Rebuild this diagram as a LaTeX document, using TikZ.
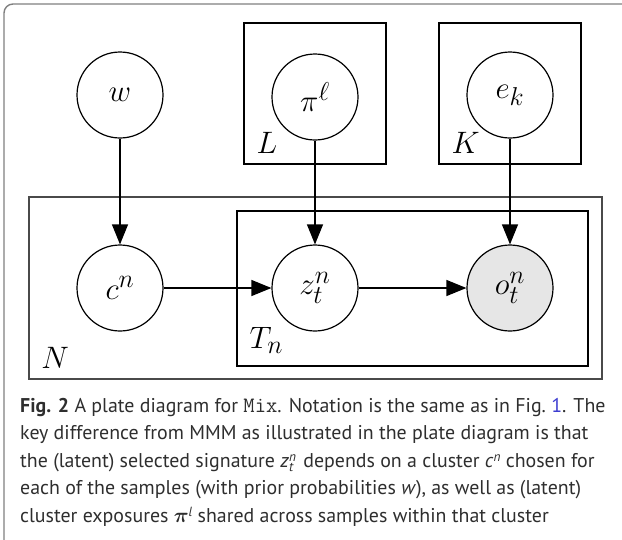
\documentclass[tikz,border=0pt]{standalone}
\usepackage{amsmath}
\usepackage{graphicx}
\usepackage{fontspec}
\usetikzlibrary{arrows.meta,calc}
\newfontfamily\capfont{PT Sans}
\definecolor{obsgray}{HTML}{E6E6E6}
\definecolor{nplatecol}{HTML}{4A4A4A}
\definecolor{framecol}{HTML}{808080}
\definecolor{captextcol}{HTML}{2E2E2E}
\definecolor{linkblue}{HTML}{3C3CD0}
\newcommand{\Mth}[1]{\scalebox{1.246}{\fontsize{24.88}{25}\selectfont$#1$}}
\newcommand{\capsmall}{\fontsize{13.3}{13.3}\selectfont\itshape}
\begin{document}
\begin{tikzpicture}[x=1pt,y=-1pt,
  var/.style={circle,draw,line width=1.2pt,minimum size=86pt,inner sep=0pt},
  obs/.style={var,fill=obsgray},
  plate/.style={draw,line width=1.4pt,inner sep=0pt},
  outerplate/.style={draw=nplatecol,line width=1.8pt,inner sep=0pt},
  edge/.style={line width=1.2pt,-{Triangle[length=20pt,width=16pt]}},
  platelabel/.style={anchor=base west,inner sep=0pt},
  capline/.style={anchor=base west,inner sep=0pt,font=\capfont\fontsize{19.9}{22}\selectfont,text=captextcol}]
\useasboundingbox (0,0) rectangle (622,539);
\clip (0,0) rectangle (622,539);
\draw[framecol,line width=1.4pt,rounded corners=9pt] (4,4) rectangle (660,580);

% plates
\node[plate,minimum width=142pt,minimum height=141pt] (Lp) at (315,93.5) {};
\node[plate,minimum width=142pt,minimum height=141pt] (Kp) at (510,93.5) {};
\node[outerplate,minimum width=573pt,minimum height=182pt] (Np) at (315.5,288) {};
\node[plate,minimum width=351pt,minimum height=155pt] (Tp) at (412.5,288.5) {};

\node[platelabel] (Ll) at ($(Lp.south west)+(13,-11)$) {\Mth{L}};
\node[platelabel] (Kl) at ($(Kp.south west)+(13,-11)$) {\Mth{K}};
\node[platelabel] (Nl) at ($(Np.south west)+(13,-11)$) {\Mth{N}};
\node[platelabel] (Tl) at ($(Tp.south west)+(13,-18)$) {\Mth{T_n}};

% variables
\node[var] (w) at (120,95) {\Mth{w}};
\node[var] (pi) at (315,97) {\Mth{\pi^\ell}};
\node[var] (e) at (510,95) {\Mth{e_k}};
\node[var] (c) at (120,288) {\Mth{c^n}};
\node[var] (z) at (315,288) {\Mth{z^n_t}};
\node[obs] (o) at (510,288) {\Mth{o^n_t}};

% edges
\draw[edge] (w) -- (c);
\draw[edge] (pi) -- (z);
\draw[edge] (e) -- (o);
\draw[edge] (c) -- (z);
\draw[edge] (z) -- (o);

% caption
\node[capline] (cap1) at (20,412.5) {\textbf{Fig. 2} A plate diagram for {\ttfamily\fontsize{22}{22}\selectfont Mix}. Notation is the same as in Fig.~{\color{linkblue}1}. The};
\node[capline] (cap2) at (20,439.9) {key difference from MMM as illustrated in the plate diagram is that};
\node[capline] (cap3) at (20,467.3) {the (latent) selected signature \textit{z}\makebox[0.45em][l]{\rlap{\raisebox{0.55ex}{\capsmall n}}\raisebox{-0.45ex}{\capsmall t}} depends on a cluster \textit{c}\raisebox{0.55ex}{\capsmall n} chosen for};
\node[capline] (cap4) at (20,494.7) {each of the samples (with prior probabilities \textit{w}), as well as (latent)};
\node[capline] (cap5) at (20,522.1) {cluster exposures $\boldsymbol{\pi}$\raisebox{0.55ex}{\capsmall l} shared across samples within that cluster};
\end{tikzpicture}
\end{document}
